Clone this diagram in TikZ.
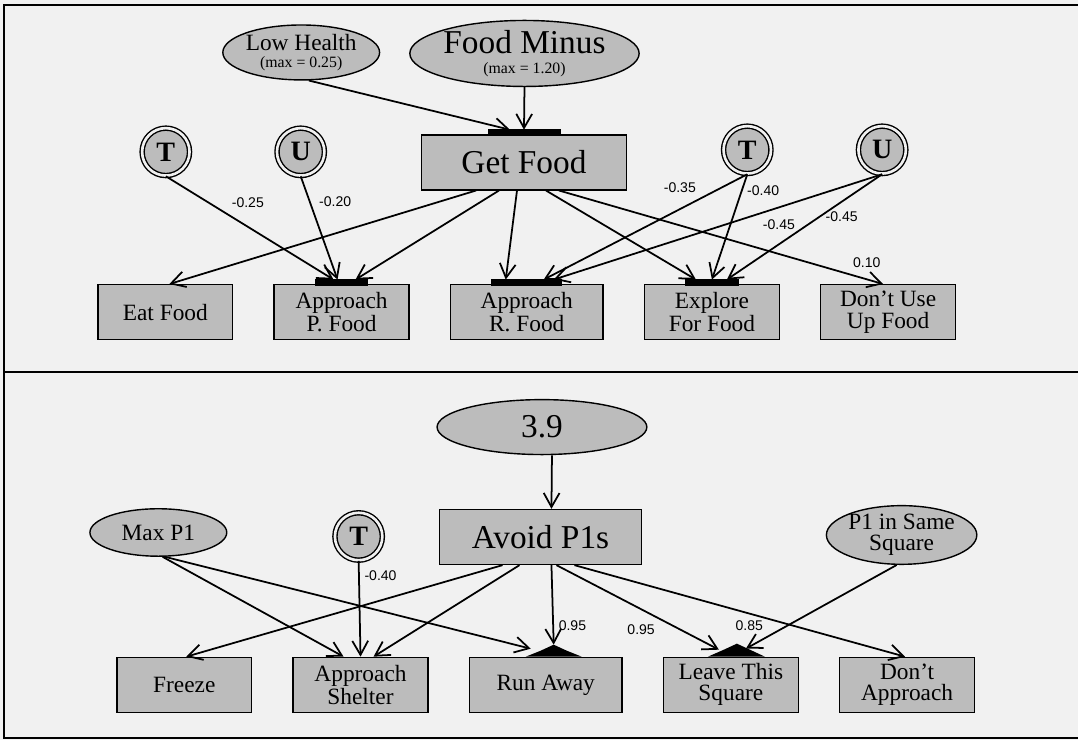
\documentclass[tikz,border=0pt]{standalone}
\usepackage{fontspec}
\setmainfont{Liberation Serif}
\newfontfamily\wtfont{Liberation Sans}
\usetikzlibrary{positioning,calc,arrows.meta,shapes.geometric}
\definecolor{paper}{RGB}{241,241,241}
\definecolor{stip}{RGB}{188,188,188}

\begin{document}
\begin{tikzpicture}[x=0.02cm, y=-0.02cm, line width=1pt, >={Straight Barb[length=8pt,width=9pt]},
  beh/.style = {draw, fill=stip, line width=0.8pt, minimum width=2.7cm, minimum height=1.1cm, inner sep=1pt, align=center, font=\fontsize{13.3}{12}\selectfont},
  head/.style = {beh, minimum width=4.1cm, font=\fontsize{19}{19}\selectfont},
  sens/.style = {draw, ellipse, fill=stip, line width=0.8pt, inner sep=0pt, align=center, font=\fontsize{13.3}{12}\selectfont},
  ctrl/.style = {draw, circle, fill=stip, line width=0.8pt, double=paper, double distance=1.5pt, minimum size=0.95cm, inner sep=0pt, font=\fontsize{16}{16}\selectfont\bfseries},
  bar/.style = {draw=black, fill=black, line width=0.5pt, inner sep=0pt, outer sep=0pt, minimum height=0.11cm, anchor=south},
  wt/.style = {font=\wtfont\fontsize{8}{8}\selectfont, inner sep=2.7pt}]
\fill[paper] (0,0) rectangle (1079,741);
\draw[line width=1.2pt] (1079,5) -- (4,5) -- (4,739) -- (1079,739);
\draw[line width=1.2pt] (4,372) -- (1079,372);

% food panel
\node[sens, minimum width=2.74cm, minimum height=1.1cm] (lowh) at (301.5,52.5) {Low Health\\[-2pt]{\fontsize{9}{9}\selectfont (max = 0.25)}};
\node[sens, minimum width=4.2cm, minimum height=1.14cm] (foodm) at (525,53.5) {{\fontsize{19}{19}\selectfont Food Minus}\\[-0.5pt]{\fontsize{9}{9}\selectfont (max = 1.20)}};
\node[head] (getfood) at (524.5,162.5) {Get Food};
\node[ctrl] (t1) at (166,152) {T};
\node[ctrl] (u1) at (301,152) {U};
\node[ctrl] (t2) at (748,150) {T};
\node[ctrl] (u2) at (883,150) {U};
\node[beh] (eat) at (165.5,312.5) {Eat Food};
\node[beh] (appp) [right=0.8cm of eat] {Approach\\P. Food};
\node[beh, minimum width=3.06cm] (appr) [right=0.8cm of appp] {Approach\\R. Food};
\node[beh] (expl) [right=0.8cm of appr] {Explore\\For Food};
\node[beh] (dont) [right=0.8cm of expl] {Don't Use\\Up Food};
\node[bar, minimum width=1.44cm] (gfbar) at ([yshift=-0.6pt]getfood.north) {};
\node[bar, minimum width=1.04cm] (ppbar) at ([yshift=-0.6pt]appp.north) {};
\node[bar, minimum width=1.4cm] (rbar) at ([yshift=-0.6pt]appr.north) {};
\node[bar, minimum width=1.06cm] (xbar) at ([yshift=-0.6pt]expl.north) {};
\draw[->] (lowh.-75) -- ($(gfbar.north)+(-14,0)$);
\draw[->] (foodm.south) -- (gfbar.north);
\draw[->] (t1.south) -- node[wt, pos=0.36, anchor=south west] {-0.25} ($(ppbar.north)+(-8,0)$);
\draw[->] (u1.south) -- node[wt, pos=0.35, anchor=south west] {-0.20} ($(ppbar.north)+(-4,0)$);
\draw[->] ($(getfood.south)+(-48,0)$) -- ($(eat.north)+(4,0)$);
\draw[->] ($(getfood.south)+(-25,0)$) -- ($(ppbar.north)+(14,0)$);
\draw[->] ($(getfood.south)+(-7,0)$) -- ($(rbar.north)+(-21,0)$);
\draw[->] ($(getfood.south)+(22,0)$) -- ($(xbar.north)+(-16,0)$);
\draw[->] ($(getfood.south)+(35,0)$) -- node[wt, pos=0.89, anchor=south west] {0.10} ($(dont.north)+(-5,0)$);
\draw[->] (t2.south) -- node[wt, pos=0.225, anchor=south east] {-0.35} ($(rbar.north)+(17,0)$);
\draw[->] (t2.south) -- node[wt, pos=0.16, anchor=west] {-0.40} (xbar.north);
\draw[->] (u2.south) -- node[wt, pos=0.38, anchor=north west] {-0.45} ($(rbar.north)+(27,0)$);
\draw[->] (u2.south) -- node[wt, pos=0.4, anchor=west] {-0.45} ($(xbar.north)+(15,0)$);

% predator panel
\node[sens, minimum width=4.2cm, minimum height=1.1cm, font=\fontsize{19}{19}\selectfont] (nine) at (542.5,427.5) {3.9};
\node[head, minimum width=4.04cm] (avoid) at (541,537.5) {Avoid P1s};
\node[sens, minimum width=2.74cm, minimum height=0.95cm] (maxp) at (158.5,533) {Max P1};
\node[ctrl] (t3) at (359,537) {T};
\node[sens, minimum width=2.78cm, minimum height=1.1cm] (same) at (902.5,535.5) {P1 in Same\\Square};
\node[beh] (freeze) at (184.5,685.5) {Freeze};
\node[beh] (shel) [right=0.8cm of freeze] {Approach\\Shelter};
\node[beh, minimum width=3.06cm] (run) [right=0.8cm of shel] {Run Away};
\node[beh] (leave) [right=0.8cm of run] {Leave This\\Square};
\node[beh] (dontap) [right=0.8cm of leave] {Don't\\Approach};
\coordinate (runpk) at ($(run.north)+(8,-12)$);
\coordinate (leavepk) at ($(leave.north)+(6,-13)$);
\fill ($(runpk)+(-28,12)$) -- ($(runpk)+(-13,6)$) -- (runpk) -- ($(runpk)+(13,6)$) -- ($(runpk)+(28,12)$) -- cycle;
\fill ($(leavepk)+(-29,13)$) -- ($(leavepk)+(-13,6)$) -- (leavepk) -- ($(leavepk)+(13,6)$) -- ($(leavepk)+(28,13)$) -- cycle;
\draw[->] ($(nine.south)+(10,0)$) -- ($(avoid.north)+(11,0)$);
\draw[->] (maxp.-80) -- ($(shel.north)+(-17,0)$);
\draw[->] (maxp.-75) -- ($(runpk)+(-23,4)$);
\draw[->] (t3.south) -- node[wt, pos=0.15, anchor=west] {-0.40} (shel.north);
\draw[->] ($(avoid.south)+(-38,0)$) -- ($(freeze.north)+(2,0)$);
\draw[->] ($(avoid.south)+(-21,0)$) -- ($(shel.north)+(13,0)$);
\draw[->] ($(avoid.south)+(11,0)$) -- node[wt, pos=0.76, anchor=west] {0.95} (runpk);
\draw[->] ($(avoid.south)+(16,0)$) -- node[wt, pos=0.64, anchor=north east] {0.95} ($(leavepk)+(-18,6)$);
\draw[->] ($(avoid.south)+(34,0)$) -- ($(dontap.north)+(-2,0)$);
\draw[->] ($(same.south)+(-5,0)$) -- node[wt, pos=0.85, anchor=south east] {0.85} ($(leavepk)+(9,5)$);
\end{tikzpicture}
\end{document}
